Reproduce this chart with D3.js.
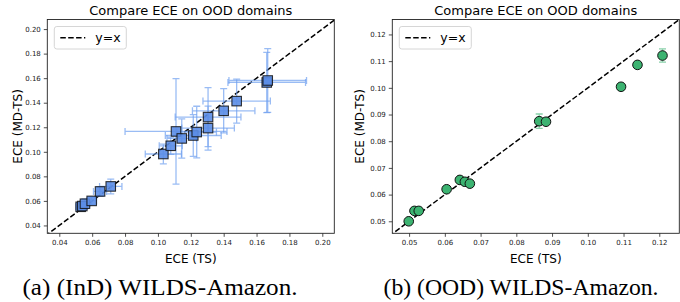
<!DOCTYPE html>
<html>
<head>
<meta charset="utf-8">
<script src="https://cdn.jsdelivr.net/npm/d3@7"></script>
<style>
  body { margin: 0; background: #fff; }
  svg { display: block; }
  .tick text { font-family: "DejaVu Sans", sans-serif; font-size: 7px; fill: #222; }
</style>
</head>
<body>
<div id="canvas"></div>
<script>
// (a) InD panel: ECE (TS) vs ECE (MD-TS), with std error bars
var indX    = [0.0530, 0.0540, 0.0556, 0.0597, 0.0648, 0.0713,
               0.1033, 0.1078, 0.1110, 0.1145, 0.1215, 0.1236, 0.1305, 0.1305, 0.1400, 0.1479, 0.1662, 0.1668];
var indY    = [0.0552, 0.0558, 0.0577, 0.0600, 0.0677, 0.0718,
               0.0982, 0.1049, 0.1166, 0.1109, 0.1133, 0.1161, 0.1193, 0.1283, 0.1334, 0.1413, 0.1565, 0.1581];
var indXErr = [0.003, 0.003, 0.003, 0.003, 0.004, 0.0068,
               0.011, 0.007, 0.031, 0.009, 0.017, 0.012, 0.016, 0.020, 0.019, 0.0205, 0.0236, 0.0236];
var indYErr = [0.003, 0.003, 0.004, 0.003, 0.004, 0.006,
               0.008, 0.007, 0.043, 0.016, 0.017, 0.021, 0.018, 0.024, 0.018, 0.018, 0.0245, 0.026];
var indTicks = [0.04, 0.06, 0.08, 0.10, 0.12, 0.14, 0.16, 0.18, 0.20];

// (b) OOD panel
var oodX    = [0.0499, 0.0515, 0.0527, 0.0605, 0.0642, 0.0656, 0.0670, 0.0864, 0.0883, 0.1093, 0.1139, 0.1209];
var oodY    = [0.0500, 0.0539, 0.0539, 0.0620, 0.0655, 0.0648, 0.0641, 0.0875, 0.0873, 0.1004, 0.1086, 0.1121];
var oodXErr = [0.0003, 0.0003, 0.0003, 0.0003, 0.0003, 0.0003, 0.0008, 0.0006, 0.0003, 0.0003, 0.0006, 0.0004];
var oodYErr = [0.0005, 0.0006, 0.0005, 0.0004, 0.0005, 0.0004, 0.0004, 0.0027, 0.0005, 0.0005, 0.0009, 0.0025];
var oodTicks = [0.05, 0.06, 0.07, 0.08, 0.09, 0.10, 0.11, 0.12];

var titleText = "Compare ECE on OOD domains";
var captions = ["(a) (InD) WILDS-Amazon.", "(b) (OOD) WILDS-Amazon."];

var width = 680, height = 302;
var svg = d3.select("#canvas").append("svg")
    .attr("width", width)
    .attr("height", height);

function panel(opt) {
    var x = d3.scaleLinear().domain(opt.xDom).range([opt.left, opt.right]);
    var y = d3.scaleLinear().domain(opt.yDom).range([opt.bottom, opt.top]);
    var g = svg.append("g");

    g.append("clipPath").attr("id", opt.id)
        .append("rect")
        .attr("x", opt.left).attr("y", opt.top)
        .attr("width", opt.right - opt.left).attr("height", opt.bottom - opt.top);

    var data = opt.xs.map(function(d, i) {
        return { x: d, y: opt.ys[i], ex: opt.xe[i], ey: opt.ye[i] };
    });

    // y = x reference line
    var lo = Math.max(opt.xDom[0], opt.yDom[0]) - 0.01, hi = Math.min(opt.xDom[1], opt.yDom[1]) + 0.01;
    g.append("line")
        .attr("clip-path", "url(#" + opt.id + ")")
        .attr("x1", x(lo)).attr("y1", y(lo))
        .attr("x2", x(hi)).attr("y2", y(hi))
        .style("stroke", "black")
        .style("stroke-width", 1.5)
        .style("stroke-dasharray", "5.5,2.4");

    // error bars
    var cap = 3.5;
    var eb = g.append("g").attr("clip-path", "url(#" + opt.id + ")")
        .style("stroke", opt.errColor)
        .style("stroke-opacity", opt.errAlpha)
        .style("stroke-width", 1.3)
        .style("fill", "none");
    data.forEach(function(d) {
        var p = d3.path();
        // horizontal
        p.moveTo(x(d.x - d.ex), y(d.y)); p.lineTo(x(d.x + d.ex), y(d.y));
        p.moveTo(x(d.x - d.ex), y(d.y) - cap); p.lineTo(x(d.x - d.ex), y(d.y) + cap);
        p.moveTo(x(d.x + d.ex), y(d.y) - cap); p.lineTo(x(d.x + d.ex), y(d.y) + cap);
        // vertical
        p.moveTo(x(d.x), y(d.y - d.ey)); p.lineTo(x(d.x), y(d.y + d.ey));
        p.moveTo(x(d.x) - cap, y(d.y - d.ey)); p.lineTo(x(d.x) + cap, y(d.y - d.ey));
        p.moveTo(x(d.x) - cap, y(d.y + d.ey)); p.lineTo(x(d.x) + cap, y(d.y + d.ey));
        eb.append("path").attr("d", p.toString());
    });

    // markers
    var mk = g.append("g");
    if (opt.marker === "square") {
        var s = 9.5;
        mk.selectAll("rect").data(data).enter().append("rect")
            .attr("x", function(d) { return x(d.x) - s / 2; })
            .attr("y", function(d) { return y(d.y) - s / 2; })
            .attr("width", s).attr("height", s)
            .style("fill", opt.fill)
            .style("fill-opacity", 0.9)
            .style("stroke", "#111")
            .style("stroke-opacity", 0.85)
            .style("stroke-width", 1.1);
    } else {
        mk.selectAll("circle").data(data).enter().append("circle")
            .attr("cx", function(d) { return x(d.x); })
            .attr("cy", function(d) { return y(d.y); })
            .attr("r", 4.8)
            .style("fill", opt.fill)
            .style("stroke", "#111")
            .style("stroke-width", 1);
    }

    // axes
    var fmt = d3.format(".2f");
    g.append("g").attr("transform", "translate(0," + opt.bottom + ")")
        .call(d3.axisBottom(x).tickValues(opt.ticks).tickFormat(fmt).tickSize(3.5).tickPadding(3))
        .call(function(a) { a.select(".domain").remove(); });
    g.append("g").attr("transform", "translate(" + opt.left + ",0)")
        .call(d3.axisLeft(y).tickValues(opt.ticks).tickFormat(fmt).tickSize(3.5).tickPadding(3))
        .call(function(a) { a.select(".domain").remove(); });
    g.selectAll(".tick line").style("stroke", "#222").style("stroke-width", 0.8);

    // frame
    g.append("rect")
        .attr("x", opt.left).attr("y", opt.top)
        .attr("width", opt.right - opt.left).attr("height", opt.bottom - opt.top)
        .style("fill", "none").style("stroke", "#222").style("stroke-width", 0.9);

    var cx = (opt.left + opt.right) / 2;
    g.append("text").attr("x", cx).attr("y", 15)
        .attr("text-anchor", "middle")
        .style("font-family", "DejaVu Sans, sans-serif").style("font-size", "13px")
        .text(titleText);
    g.append("text").attr("x", cx).attr("y", 263)
        .attr("text-anchor", "middle")
        .style("font-family", "DejaVu Sans, sans-serif").style("font-size", "12px")
        .text("ECE (TS)");
    g.append("text")
        .attr("transform", "translate(" + opt.ylabX + "," + ((opt.top + opt.bottom) / 2) + ") rotate(-90)")
        .attr("text-anchor", "middle")
        .style("font-family", "DejaVu Sans, sans-serif").style("font-size", "12px")
        .text("ECE (MD-TS)");

    // legend
    var lg = g.append("g").attr("transform", "translate(" + (opt.left + 7) + "," + (opt.top + 7) + ")");
    lg.append("rect").attr("width", 72).attr("height", 22.5).attr("rx", 2.5)
        .style("fill", "white").style("fill-opacity", 0.8)
        .style("stroke", "#ccc").style("stroke-width", 0.8);
    lg.append("line").attr("x1", 6).attr("x2", 31).attr("y1", 11.3).attr("y2", 11.3)
        .style("stroke", "black").style("stroke-width", 1.5).style("stroke-dasharray", "5.5,2.4");
    lg.append("text").attr("x", 41).attr("y", 15.8)
        .style("font-family", "DejaVu Sans, sans-serif").style("font-size", "12.5px")
        .text("y=x");

    svg.append("text").attr("x", opt.capX).attr("y", 295)
        .attr("text-anchor", "middle")
        .attr("textLength", 275).attr("lengthAdjust", "spacingAndGlyphs")
        .style("font-family", "Liberation Serif, Times New Roman, serif").style("font-size", "23px")
        .text(opt.caption);
}

panel({
    id: "clipA", xs: indX, ys: indY, xe: indXErr, ye: indYErr, ticks: indTicks,
    xDom: [0.0327, 0.2073], yDom: [0.0336, 0.2078],
    left: 47.3, right: 334.3, top: 19.5, bottom: 233.3,
    marker: "square", fill: "#5b8de6", errColor: "#6f9ff0", errAlpha: 0.7,
    ylabX: 22, caption: captions[0], capX: 160
});
panel({
    id: "clipB", xs: oodX, ys: oodY, xe: oodXErr, ye: oodYErr, ticks: oodTicks,
    xDom: [0.0453, 0.1256], yDom: [0.0455, 0.1256],
    left: 392.3, right: 679.3, top: 19.5, bottom: 233.3,
    marker: "circle", fill: "#3cb371", errColor: "#3cb371", errAlpha: 0.6,
    ylabX: 364, caption: captions[1], capX: 521
});
</script>
</body>
</html>
